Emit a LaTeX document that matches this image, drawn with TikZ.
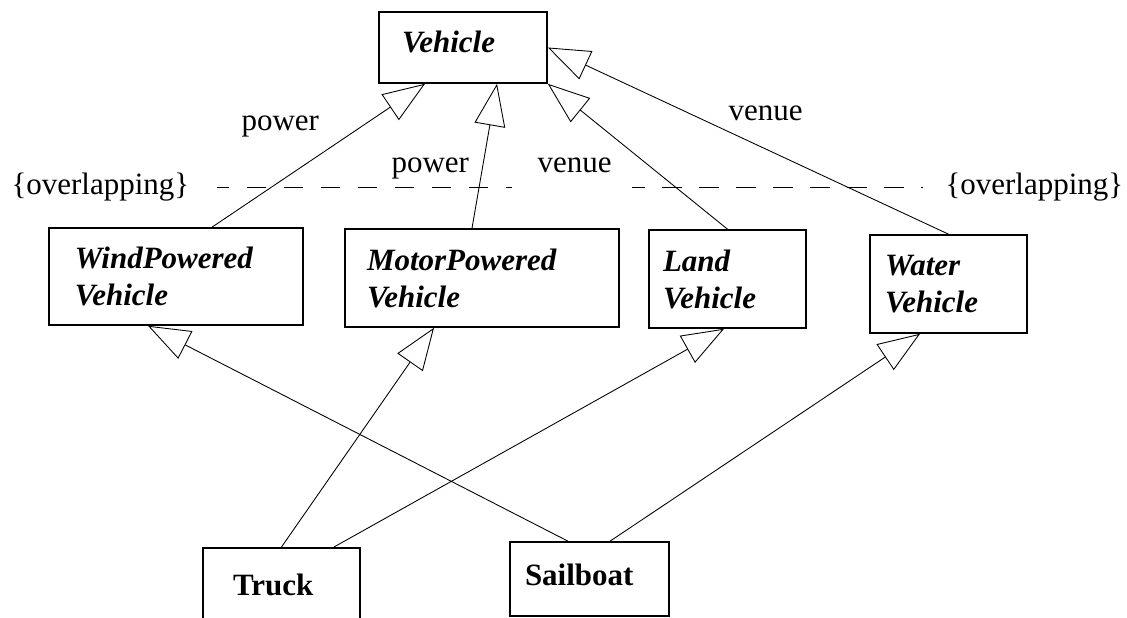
\documentclass[tikz,border=0pt]{standalone}
\usepackage{fontspec}
\setmainfont{Liberation Serif}
\usetikzlibrary{arrows.meta,calc}

\tikzset{
    classbox/.style={draw, rectangle, line width=.65pt, align=left, inner ysep=0pt,
        font=\fontsize{12.4}{14.8}\selectfont\bfseries},
    abstractbox/.style={classbox, font=\fontsize{12.4}{14.8}\selectfont\bfseries\itshape},
    genarrow/.style={line width=.35pt, -{Triangle[open,length=16.8pt,width=12.4pt]}},
    gsline/.style={line width=.7pt, dash pattern=on 7.8pt off 7pt, dash phase=2.8pt},
    gslabel/.style={inner sep=0pt, anchor=base west, font=\fontsize{12.4}{14.8}\selectfont},
}

\begin{document}
\begin{tikzpicture}[x=.4pt, y=-.4pt]
    \useasboundingbox (0,0) rectangle (1127,618);

    \node[abstractbox, text width=48.8pt, inner xsep=9.2pt, minimum height=28.4pt, text depth=4.4pt] (vehicle) at (463,47.5) {Vehicle};
    \node[abstractbox, text width=80.8pt, inner xsep=10.4pt, minimum height=38.8pt] (wind) at (176,276.5) {WindPowered\\Vehicle};
    \node[abstractbox, text width=92pt, inner xsep=8.8pt, minimum height=39.2pt] (motor) at (482,278) {MotorPowered\\Vehicle};
    \node[abstractbox, text width=51.6pt, inner xsep=5.6pt, minimum height=39.2pt] (land) at (727.5,279) {Land\\Vehicle};
    \node[abstractbox, text width=50.8pt, inner xsep=6pt, minimum height=39.2pt] (water) at (948.5,284) {Water\\Vehicle};
    \node[classbox, text width=38.8pt, inner xsep=12pt, inner ysep=10.4pt, text height=8.5pt, text depth=30pt, anchor=north] (truck) at (281.5,547) {Truck};
    \node[classbox, text width=51.6pt, inner xsep=6pt, minimum height=29.6pt, text depth=3.7pt] (sailboat) at (589.5,579) {Sailboat};

    \node[gslabel] (powerA) at (241,131) {power};
    \node[gslabel] (powerB) at (391,173) {power};
    \node[gslabel] (venueA) at (537,173) {venue};
    \node[gslabel] (venueB) at (728,121) {venue};
    \node[gslabel] (ovlpower) at (11,195) {\{overlapping\}};
    \node[gslabel] (ovlvenue) at (945,195) {\{overlapping\}};

    \coordinate (powerend) at (512,187);
    \coordinate (venuestart) at (632,187);
    \draw[gsline] ($(ovlpower.east)+(27,0)$) -- (powerend |- ovlpower.east);
    \draw[gsline] (venuestart |- ovlvenue.west) -- ($(ovlvenue.west)+(-22,0)$);

    \draw[genarrow] ($(wind.north)+(36,0)$) -- ($(vehicle.south)+(-38,0)$);
    \draw[genarrow] ($(motor.north)+(-10,0)$) -- ($(vehicle.south)+(34,0)$);
    \draw[genarrow] (land.north) -- (vehicle.south east);
    \draw[genarrow] (water.north) -- (vehicle.east);
    \draw[genarrow] (truck.north) -- ($(motor.south)+(-48,0)$);
    \draw[genarrow] ($(truck.north)+(52.5,0)$) -- ($(land.south)+(-3.5,0)$);
    \draw[genarrow] ($(sailboat.north)+(-21.5,0)$) -- ($(wind.south)+(-28,0)$);
    \draw[genarrow] ($(sailboat.north)+(20.5,0)$) -- ($(water.south)+(-28.5,0)$);
\end{tikzpicture}
\end{document}
